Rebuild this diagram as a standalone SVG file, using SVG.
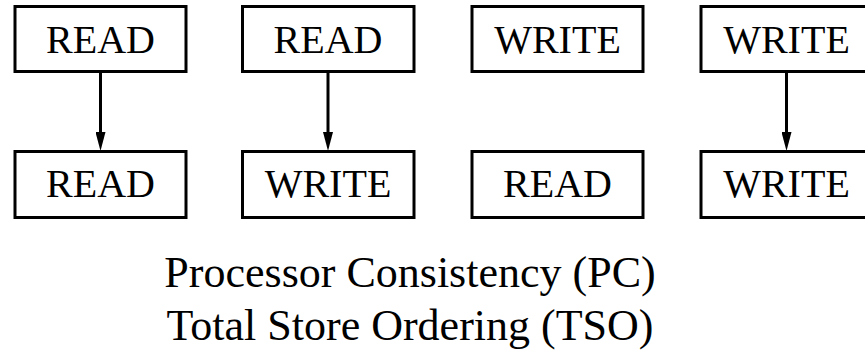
<svg xmlns="http://www.w3.org/2000/svg" width="865" height="351" viewBox="0 0 865 351">
<defs>
<style>
.box{fill:#fff;stroke:#000;stroke-width:3}
.lbl{font-family:"Liberation Serif","Times New Roman",serif;font-size:40px;fill:#000;text-anchor:middle}
.cap{font-family:"Liberation Serif","Times New Roman",serif;font-size:44px;fill:#000;text-anchor:middle}
.edge{stroke:#000;stroke-width:3;fill:none;marker-end:url(#ah)}
</style>
<marker id="ah" viewBox="0 0 19 10" markerWidth="19" markerHeight="10" refX="0" refY="5" orient="auto" markerUnits="userSpaceOnUse">
<path d="M0,0 L19,5 L0,10 z" fill="#000"/>
</marker>
</defs>
<rect width="865" height="351" fill="#fff"/>
<g id="r1"><rect class="box" x="15" y="6.5" width="171" height="65"/><text class="lbl" x="100.5" y="53">READ</text></g>
<g id="r2"><rect class="box" x="15" y="151.5" width="171" height="66"/><text class="lbl" x="100.5" y="197">READ</text></g>
<g id="r3"><rect class="box" x="242.5" y="6.5" width="171.5" height="65"/><text class="lbl" x="328" y="53">READ</text></g>
<g id="w1"><rect class="box" x="242.5" y="151.5" width="171.5" height="66"/><text class="lbl" x="328" y="197">WRITE</text></g>
<g id="w2"><rect class="box" x="472" y="6.5" width="171" height="65"/><text class="lbl" x="557.5" y="53">WRITE</text></g>
<g id="r4"><rect class="box" x="472" y="151.5" width="171" height="66"/><text class="lbl" x="557.5" y="197">READ</text></g>
<g id="w3"><rect class="box" x="701" y="6.5" width="171" height="65"/><text class="lbl" x="786.5" y="53">WRITE</text></g>
<g id="w4"><rect class="box" x="701" y="151.5" width="171" height="66"/><text class="lbl" x="786.5" y="197">WRITE</text></g>
<g id="connectors">
<line class="edge" x1="100.5" y1="73" x2="100.5" y2="132"/>
<line class="edge" x1="328" y1="73" x2="328" y2="132"/>
<line class="edge" x1="786.5" y1="73" x2="786.5" y2="132"/>
</g>
<g id="caption">
<text class="cap" x="410" y="287">Processor Consistency (PC)</text>
<text class="cap" x="410" y="340">Total Store Ordering (TSO)</text>
</g>
</svg>
